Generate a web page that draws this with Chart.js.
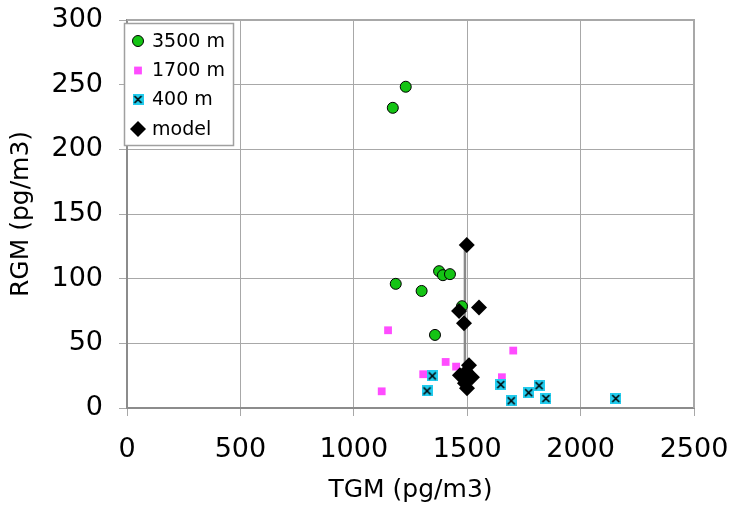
<!DOCTYPE html>
<html>
<head>
<meta charset="utf-8">
<script src="https://cdn.jsdelivr.net/npm/chart.js@4/dist/chart.umd.min.js"></script>
<style>
html,body{margin:0;padding:0;background:#fff;}
#wrap{width:729px;height:518px;position:relative;}
</style>
</head>
<body>
<div id="wrap"><canvas id="c" width="729" height="518"></canvas></div>
<script>
// ---- data ----
const seriesNames = ['3500 m', '1700 m', '400 m', 'model'];
const tgm3500 = [1229, 1172, 1376, 1393, 1424, 1185, 1299, 1358, 1477];
const rgm3500 = [248.4, 232.1, 105.8, 102.7, 103.5, 96.0, 90.5, 56.5, 78.7];
const tgm1700 = [1151, 1703, 1405, 1451, 1306, 1123, 1653];
const rgm1700 = [60.1, 44.4, 35.6, 32.0, 26.1, 12.9, 23.8];
const tgm400 = [1346, 1323, 1648, 1694, 1771, 1817, 1847, 2155];
const rgm400 = [24.8, 13.2, 18.1, 5.6, 11.8, 17.3, 7.3, 7.3];
const tgmModel = [1498, 1552, 1464, 1486, 1508, 1468, 1521, 1490, 1499, 1495];
const rgmModel = [126, 77.7, 75, 65.5, 33, 25.3, 23.8, 19.1, 15.2, 28];
const modelLineX = [1490, 1490];
const modelLineY = [126, 15];
const xTicks = [0, 500, 1000, 1500, 2000, 2500];
const yTicks = [0, 50, 100, 150, 200, 250, 300];

const pts = (xs, ys) => xs.map((x, i) => ({x: x, y: ys[i]}));

// cyan square with black X marker
function makeXMarker() {
  const c = document.createElement('canvas');
  c.width = 11; c.height = 11;
  const g = c.getContext('2d');
  g.fillStyle = '#22ccee';
  g.fillRect(0, 0, 11, 11);
  g.strokeStyle = '#000';
  g.lineWidth = 1.6;
  g.beginPath();
  g.moveTo(2, 2); g.lineTo(9, 9);
  g.moveTo(9, 2); g.lineTo(2, 9);
  g.stroke();
  return c;
}
const xMarker = makeXMarker();

const FONT = "'DejaVu Sans', sans-serif";

const styles = [
  {pointStyle: 'circle', pointRadius: 5.5, backgroundColor: '#14c414', borderColor: '#000', borderWidth: 1},
  {pointStyle: 'rect', pointRadius: 5.5, backgroundColor: '#ff4cff', borderColor: '#ff4cff', borderWidth: 0},
  {pointStyle: xMarker, pointRadius: 6, backgroundColor: '#22ccee', borderColor: '#000', borderWidth: 0},
  {pointStyle: 'rectRot', pointRadius: 8, backgroundColor: '#000', borderColor: '#000', borderWidth: 0}
];

const legendPlugin = {
  id: 'boxLegend',
  afterDraw(chart) {
    const ctx = chart.ctx;
    const bx = 124, by = 23, bw = 109, bh = 122;
    ctx.save();
    ctx.fillStyle = '#fff';
    ctx.fillRect(bx, by, bw, bh);
    ctx.strokeStyle = '#a0a0a0';
    ctx.lineWidth = 1.5;
    ctx.strokeRect(bx + 0.5, by + 0.5, bw, bh);
    const rows = [41, 70.5, 99.5, 129];
    ctx.font = '19px ' + FONT;
    ctx.textBaseline = 'middle';
    ctx.textAlign = 'left';
    seriesNames.forEach((name, i) => {
      const s = styles[i];
      const y = rows[i];
      ctx.fillStyle = s.backgroundColor;
      ctx.strokeStyle = s.borderColor;
      ctx.lineWidth = s.borderWidth;
      if (typeof s.pointStyle === 'string') {
        ctx.beginPath();
        if (s.pointStyle === 'circle') {
          ctx.arc(138, y, s.pointRadius, 0, Math.PI * 2);
          ctx.fill(); ctx.stroke();
        } else if (s.pointStyle === 'rect') {
          const h = s.pointRadius * Math.SQRT1_2;
          ctx.fillRect(138 - h, y - h, 2 * h, 2 * h);
        } else if (s.pointStyle === 'rectRot') {
          const r = s.pointRadius;
          ctx.moveTo(138, y - r); ctx.lineTo(138 + r, y); ctx.lineTo(138, y + r); ctx.lineTo(138 - r, y);
          ctx.closePath(); ctx.fill();
        }
      } else {
        ctx.drawImage(s.pointStyle, 138 - s.pointStyle.width / 2, y - s.pointStyle.height / 2);
      }
      ctx.fillStyle = '#000';
      ctx.fillText(name, 152, y + 1);
    });
    ctx.restore();
  }
};

const borderPlugin = {
  id: 'frame',
  beforeDatasetsDraw(chart) {
    const a = chart.chartArea, ctx = chart.ctx;
    ctx.save();
    ctx.strokeStyle = '#a8a8a8';
    ctx.lineWidth = 2;
    ctx.beginPath();
    ctx.moveTo(a.left, a.top); ctx.lineTo(a.right, a.top); ctx.lineTo(a.right, a.bottom);
    ctx.stroke();
    ctx.restore();
  }
};

new Chart(document.getElementById('c'), {
  type: 'scatter',
  data: {
    datasets: [
      Object.assign({label: seriesNames[3], data: pts(tgmModel, rgmModel), order: 0}, styles[3]),
      Object.assign({label: seriesNames[2], data: pts(tgm400, rgm400), order: 1}, styles[2]),
      Object.assign({label: seriesNames[1], data: pts(tgm1700, rgm1700), order: 2}, styles[1]),
      Object.assign({label: seriesNames[0], data: pts(tgm3500, rgm3500), order: 3}, styles[0]),
      {label: 'model line', data: pts(modelLineX, modelLineY), showLine: true, pointRadius: 0,
       borderColor: '#8a8a8a', borderWidth: 2.5, order: 4}
    ]
  },
  options: {
    responsive: false,
    animation: false,
    layout: {padding: {top: 20, right: 35, left: 0, bottom: 0}},
    plugins: {legend: {display: false}, tooltip: {enabled: false}},
    scales: {
      x: {
        type: 'linear', min: 0, max: 2500,
        afterBuildTicks: s => { s.ticks = xTicks.map(v => ({value: v})); },
        afterFit: s => { s.height = 110; s.paddingLeft = 0; s.paddingRight = 0; },
        grid: {color: '#a8a8a8', lineWidth: 1, tickLength: 8, drawTicks: true},
        border: {color: '#8c8c8c', width: 2},
        ticks: {color: '#000', font: {family: FONT, size: 27}, padding: 18, maxRotation: 0,
                callback: v => String(v)},
        title: {display: true, text: 'TGM (pg/m3)', color: '#000', font: {family: FONT, size: 25},
                padding: {top: 0, bottom: 13}}
      },
      y: {
        type: 'linear', min: 0, max: 300,
        afterBuildTicks: s => { s.ticks = yTicks.map(v => ({value: v})); },
        afterFit: s => { s.width = 127; s.paddingTop = 0; s.paddingBottom = 0; },
        grid: {color: '#a8a8a8', lineWidth: 1, tickLength: 8, drawTicks: true},
        border: {color: '#8c8c8c', width: 2},
        ticks: {color: '#000', font: {family: FONT, size: 27}, padding: 16,
                callback: v => String(v)},
        title: {display: true, text: 'RGM (pg/m3)', color: '#000', font: {family: FONT, size: 25},
                padding: {top: 6, bottom: 0}}
      }
    }
  },
  plugins: [borderPlugin, legendPlugin]
});
</script>
</body>
</html>
